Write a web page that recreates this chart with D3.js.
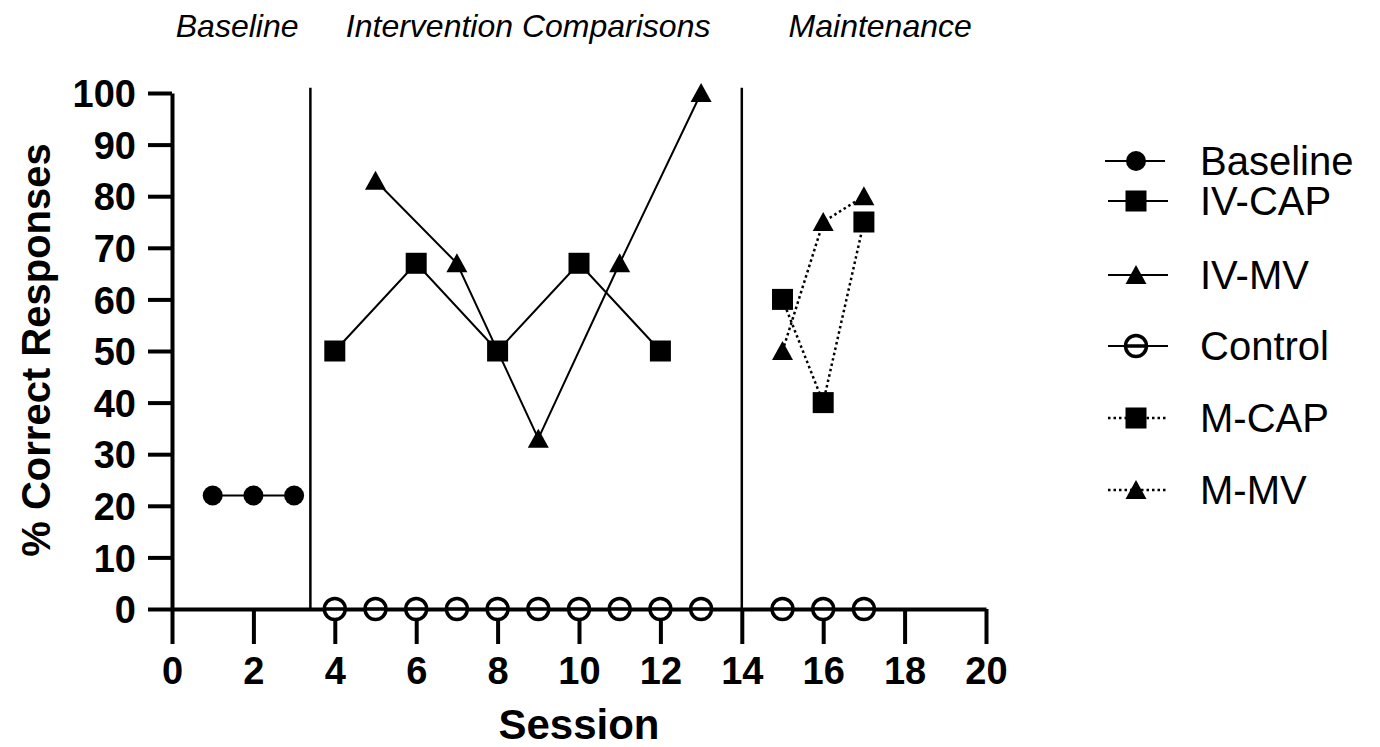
<!DOCTYPE html>
<html>
<head>
<meta charset="utf-8">
<script src="https://cdn.jsdelivr.net/npm/d3@7"></script>
<style>
  body { margin: 0; background: #fff; }
  svg { display: block; }
  text { font-family: "Liberation Sans", Arial, sans-serif; fill: #000; }
</style>
</head>
<body>
<div id="chart"></div>
<script>
// ---- data ----
const baselineSessions = [1, 2, 3];
const baselineValues = [22, 22, 22];

const ivCapSessions = [4, 6, 8, 10, 12];
const ivCapValues = [50, 67, 50, 67, 50];

const ivMvSessions = [5, 7, 9, 11, 13];
const ivMvValues = [83, 67, 33, 67, 100];

const controlSessionsA = [4, 5, 6, 7, 8, 9, 10, 11, 12, 13];
const controlValuesA = [0, 0, 0, 0, 0, 0, 0, 0, 0, 0];
const controlSessionsB = [15, 16, 17];
const controlValuesB = [0, 0, 0];

const mCapSessions = [15, 16, 17];
const mCapValues = [60, 40, 75];

const mMvSessions = [15, 16, 17];
const mMvValues = [50, 75, 80];

const phaseBreaks = [3.4, 14];
const phaseLabels = ["Baseline", "Intervention Comparisons", "Maintenance"];
const phaseLabelCenters = [1.6, 8.75, 17.4];

const xTicks = [0, 2, 4, 6, 8, 10, 12, 14, 16, 18, 20];
const yTicks = [0, 10, 20, 30, 40, 50, 60, 70, 80, 90, 100];

const legendNames = ["Baseline", "IV-CAP", "IV-MV", "Control", "M-CAP", "M-MV"];

// ---- series definitions ----
const zip = (xs, ys) => xs.map((x, i) => ({x: x, y: ys[i]}));
const series = [
    {name: "Baseline", shape: "circle", dotted: false, segs: [zip(baselineSessions, baselineValues)]},
    {name: "IV-CAP", shape: "square", dotted: false, segs: [zip(ivCapSessions, ivCapValues)]},
    {name: "IV-MV", shape: "triangle", dotted: false, segs: [zip(ivMvSessions, ivMvValues)]},
    {name: "Control", shape: "open", dotted: false, segs: [zip(controlSessionsA, controlValuesA), zip(controlSessionsB, controlValuesB)]},
    {name: "M-CAP", shape: "square", dotted: true, segs: [zip(mCapSessions, mCapValues)]},
    {name: "M-MV", shape: "triangle", dotted: true, segs: [zip(mMvSessions, mMvValues)]}
];

const width = 1380, height = 747;

const svg = d3.select("#chart")
    .append("svg")
    .attr("width", width)
    .attr("height", height);

const x = d3.scaleLinear().domain([0, 20]).range([172, 986]);
const y = d3.scaleLinear().domain([0, 100]).range([609, 93]);

// draw one marker shape at 0,0
const drawMarker = (g, shape) => {
    if (shape === "circle") {
        g.append("circle").attr("r", 10).attr("fill", "#000");
    } else if (shape === "square") {
        g.append("rect").attr("x", -10.5).attr("y", -10.5)
            .attr("width", 21).attr("height", 21).attr("fill", "#000");
    } else if (shape === "triangle") {
        g.append("path").attr("d", "M0,-10 L10.5,9 L-10.5,9 Z").attr("fill", "#000");
    } else {
        g.append("circle").attr("r", 10.5)
            .attr("fill", "#fff").attr("stroke", "#000").attr("stroke-width", 3.5);
        g.append("line").attr("x1", -10.5).attr("x2", 10.5)
            .attr("stroke", "#000").attr("stroke-width", 3.5);
    }
};

// axes
const yAxis = d3.axisLeft(y).tickValues(yTicks).tickSize(24).tickSizeOuter(0).tickPadding(12);
const xAxis = d3.axisBottom(x).tickValues(xTicks).tickSize(35).tickSizeOuter(0).tickPadding(13);

const gy = svg.append("g").attr("transform", "translate(172,0)").call(yAxis);
const gx = svg.append("g").attr("transform", "translate(0,609)").call(xAxis);

[gx, gy].forEach(g => {
    g.select(".domain").attr("stroke-width", 4);
    g.selectAll(".tick line").attr("stroke-width", 4);
    g.selectAll(".tick text")
        .attr("font-size", 38)
        .attr("font-weight", "bold")
        .attr("font-family", "Liberation Sans, Arial, sans-serif");
});
gy.selectAll(".tick text").attr("dy", "0.36em");

// phase change lines
svg.append("g")
    .selectAll("line")
    .data(phaseBreaks)
    .join("line")
    .attr("x1", d => x(d)).attr("x2", d => x(d))
    .attr("y1", y(101)).attr("y2", y(0))
    .attr("stroke", "#000")
    .attr("stroke-width", 2.5);

// phase labels
svg.append("g")
    .selectAll("text")
    .data(phaseLabels)
    .join("text")
    .attr("x", (d, i) => x(phaseLabelCenters[i]))
    .attr("y", 37)
    .attr("text-anchor", "middle")
    .attr("font-size", 32)
    .attr("font-style", "italic")
    .text(d => d);

// lines
const line = d3.line().x(d => x(d.x)).y(d => y(d.y));
const lineG = svg.append("g").attr("fill", "none").attr("stroke", "#000");
series.forEach(s => {
    s.segs.forEach(seg => {
        lineG.append("path")
            .attr("d", line(seg))
            .attr("stroke-width", s.dotted ? 2.5 : 2)
            .attr("stroke-dasharray", s.dotted ? "2.5,3" : null);
    });
});

// markers
const markG = svg.append("g");
series.forEach(s => {
    s.segs.forEach(seg => {
        seg.forEach(p => {
            const g = markG.append("g")
                .attr("transform", `translate(${x(p.x)},${y(p.y)})`);
            drawMarker(g, s.shape);
        });
    });
});

// axis titles
svg.append("text")
    .attr("transform", "translate(50,350) rotate(-90)")
    .attr("text-anchor", "middle")
    .attr("font-size", 40)
    .attr("font-weight", "bold")
    .text("% Correct Responses");

svg.append("text")
    .attr("x", x(10))
    .attr("y", 739)
    .attr("text-anchor", "middle")
    .attr("font-size", 42)
    .attr("font-weight", "bold")
    .text("Session");

// legend
const legendY = [161, 201, 275, 346, 418, 490];
const legend = svg.append("g");
series.forEach((s, i) => {
    const name = legendNames[i];
    const g = legend.append("g").attr("transform", `translate(1136,${legendY[i]})`);
    g.append("line")
        .attr("x1", i === 0 ? -31 : -28).attr("x2", i === 0 ? 29 : 32)
        .attr("stroke", "#000")
        .attr("stroke-width", s.dotted ? 2.5 : 2)
        .attr("stroke-dasharray", s.dotted ? "2.5,3" : null);
    drawMarker(g, s.shape);
    g.append("text")
        .attr("x", 64)
        .attr("y", 14)
        .attr("font-size", 40)
        .text(name);
});
</script>
</body>
</html>
